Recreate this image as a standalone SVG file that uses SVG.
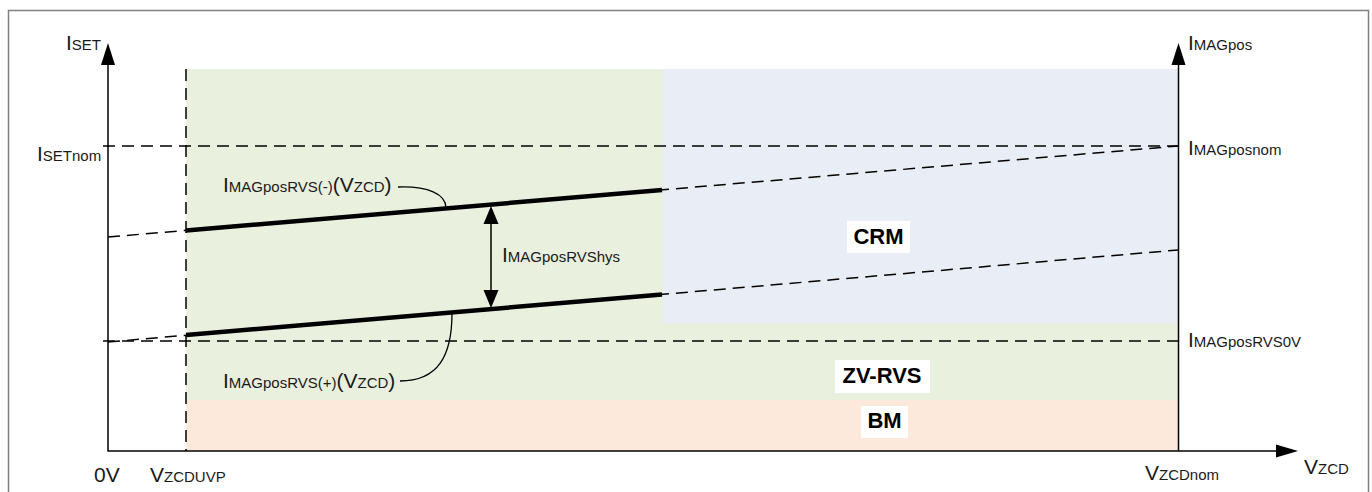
<svg xmlns="http://www.w3.org/2000/svg" width="1372" height="492" viewBox="0 0 1372 492">
  <style>
    text { font-family: "Liberation Sans", Arial, sans-serif; fill: #1a1a1a; }
    .lbl { font-size: 21px; }
    .s { font-size: 15px; }
    .mode { font-size: 22px; font-weight: bold; text-anchor: middle; fill: #000; }
    .axis { stroke: #000; stroke-width: 1.5; fill: none; }
    .dash { stroke: #000; stroke-width: 1.5; fill: none; stroke-dasharray: 12 7; }
    .thick { stroke: #000; stroke-width: 4.5; fill: none; }
    .lead { stroke: #000; stroke-width: 1.3; fill: none; }
    .head { fill: #000; }
    .tag { fill: #fff; }
  </style>

  <!-- outer frame -->
  <rect x="8.5" y="10.5" width="1360" height="490" fill="#fff" stroke="#808080" stroke-width="1.5"/>

  <!-- operating regions -->
  <g id="regions">
    <rect id="zv-rvs-region" x="186" y="69" width="992" height="331" fill="#EAF0DE"/>
    <rect id="crm-region" x="663" y="69" width="515" height="254" fill="#E9EDF5"/>
    <rect id="bm-region" x="186" y="400" width="992" height="51" fill="#FCE9DB"/>
  </g>

  <!-- reference lines -->
  <g id="guides">
    <line class="dash" x1="186" y1="69" x2="186" y2="451"/>
    <line class="dash" x1="103" y1="146" x2="1178" y2="146"/>
    <line class="dash" x1="103" y1="341" x2="1178" y2="341"/>
    <line class="dash" x1="108" y1="237" x2="1178" y2="146"/>
    <line class="dash" x1="108" y1="342" x2="1178" y2="250"/>
  </g>

  <!-- axes -->
  <g id="axes">
    <line class="axis" x1="108" y1="62" x2="108" y2="451"/>
    <polygon class="head" points="108,43 101,65 115,65"/>
    <line class="axis" x1="1178.5" y1="62" x2="1178.5" y2="451"/>
    <polygon class="head" points="1178.5,43 1171.5,65 1185.5,65"/>
    <line class="axis" x1="107.5" y1="451" x2="1280" y2="451"/>
    <polygon class="head" points="1298,451 1276,444.5 1276,457.5"/>
  </g>

  <!-- threshold curves and connectors -->
  <g id="connectors">
    <line class="thick" x1="186" y1="230.5" x2="662" y2="190"/>
    <line class="thick" x1="186" y1="335" x2="662" y2="294.5"/>
    <line class="axis" x1="491" y1="222" x2="491" y2="292"/>
    <polygon class="head" points="491,206 483.5,224 498.5,224"/>
    <polygon class="head" points="491,308 483.5,290 498.5,290"/>
    <path class="lead" d="M398,187 C428,186 446,194 446,208"/>
    <path class="lead" d="M400,381 C438,381 452,356 452,313"/>
  </g>

  <!-- mode tags -->
  <g id="mode-crm">
    <rect class="tag" x="847" y="221" width="63" height="32"/>
    <text class="mode" x="878.5" y="244">CRM</text>
  </g>
  <g id="mode-zv-rvs">
    <rect class="tag" x="835" y="360" width="95" height="33"/>
    <text class="mode" x="882" y="383">ZV-RVS</text>
  </g>
  <g id="mode-bm">
    <rect class="tag" x="861" y="406" width="47" height="32"/>
    <text class="mode" x="884.5" y="428">BM</text>
  </g>

  <!-- axis and curve labels -->
  <g id="labels">
    <text class="lbl" x="66" y="50">I<tspan class="s">SET</tspan></text>
    <text class="lbl" x="37" y="161">I<tspan class="s">SETnom</tspan></text>
    <text class="lbl" x="1188" y="50">I<tspan class="s">MAGpos</tspan></text>
    <text class="lbl" x="1188" y="155">I<tspan class="s">MAGposnom</tspan></text>
    <text class="lbl" x="1188" y="347">I<tspan class="s">MAGposRVS0V</tspan></text>
    <text class="lbl" x="502" y="262">I<tspan class="s">MAGposRVShys</tspan></text>
    <text class="lbl" x="223" y="192">I<tspan class="s">MAGposRVS(-)</tspan>(V<tspan class="s">ZCD</tspan>)</text>
    <text class="lbl" x="223" y="388">I<tspan class="s">MAGposRVS(+)</tspan>(V<tspan class="s">ZCD</tspan>)</text>
    <text class="lbl" x="94" y="482">0V</text>
    <text class="lbl" x="150" y="482">V<tspan class="s">ZCDUVP</tspan></text>
    <text class="lbl" x="1145" y="480">V<tspan class="s">ZCDnom</tspan></text>
    <text class="lbl" x="1304" y="474">V<tspan class="s">ZCD</tspan></text>
  </g>
</svg>
